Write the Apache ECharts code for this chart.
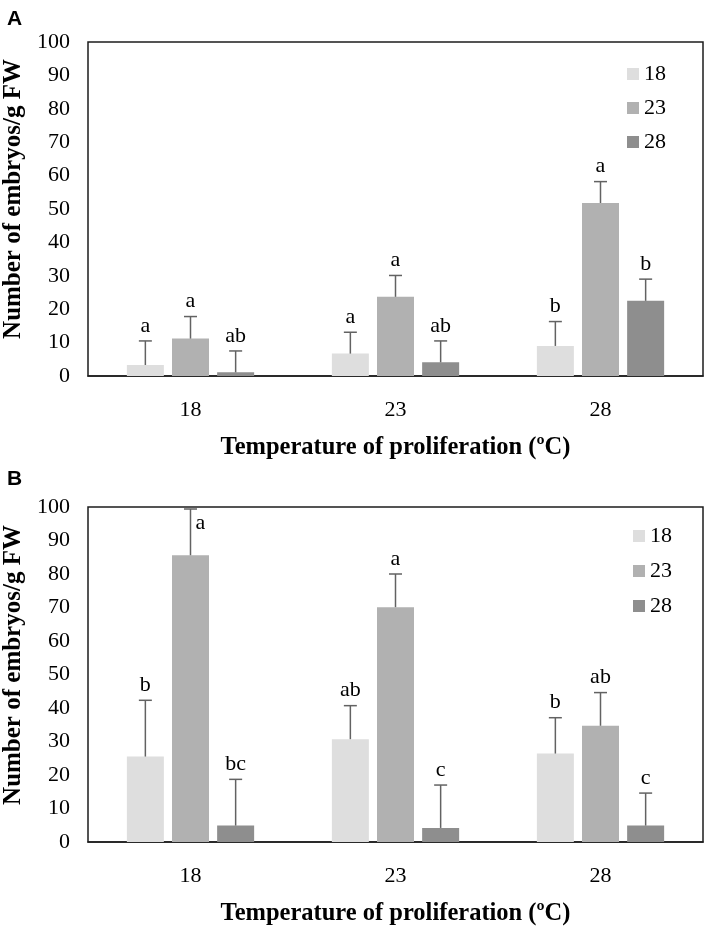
<!DOCTYPE html>
<html>
<head>
<meta charset="utf-8">
<script src="https://cdn.jsdelivr.net/npm/echarts@6/dist/echarts.min.js"></script>
<style>
html,body{margin:0;padding:0;background:#fff;}
#chart{width:707px;height:927px;}
</style>
</head>
<body>
<div id="chart"></div>
<script>
// ---- data ----
var categories = ['18', '23', '28'];
var seriesNames = ['18', '23', '28'];
var yTicks = [0, 10, 20, 30, 40, 50, 60, 70, 80, 90, 100];
var xTitle = 'Temperature of proliferation (\u00BAC)';
var yTitle = 'Number of embryos/g FW';

// Panel A
var a18 = [3.3, 6.7, 9.0];
var a23 = [11.2, 23.7, 51.8];
var a28 = [1.1, 4.1, 22.5];
var a18Err = [7.2, 6.4, 7.3];
var a23Err = [6.6, 6.4, 6.4];
var a28Err = [6.4, 6.4, 6.5];
var a18Let = ['a', 'a', 'b'];
var a23Let = ['a', 'a', 'a'];
var a28Let = ['ab', 'ab', 'b'];

// Panel B
var b18 = [25.5, 30.7, 26.4];
var b23 = [85.6, 70.1, 34.7];
var b28 = [4.9, 4.2, 4.9];
var b18Err = [16.8, 10.0, 10.7];
var b23Err = [13.8, 9.9, 9.9];
var b28Err = [13.8, 12.8, 9.7];
var b18Let = ['b', 'ab', 'b'];
var b23Let = ['a', 'a', 'ab'];
var b28Let = ['bc', 'c', 'c'];

// ---- styling ----
var colors = ['#dedede', '#b1b1b1', '#8e8e8e'];
var serif = 'Liberation Serif';
var BAR_W = 37;
var BAR_GAP = 0.22;

var panels = [
  {vals: [a18, a23, a28], errs: [a18Err, a23Err, a28Err], lets: [a18Let, a23Let, a28Let]},
  {vals: [b18, b23, b28], errs: [b18Err, b23Err, b28Err], lets: [b18Let, b23Let, b28Let]}
];

var grids = [
  {left: 88, top: 42, width: 615, height: 334, show: true, borderColor: '#1c1c1c', borderWidth: 1.5, backgroundColor: 'transparent'},
  {left: 88, top: 507, width: 615, height: 335, show: true, borderColor: '#1c1c1c', borderWidth: 1.5, backgroundColor: 'transparent'}
];

var xAxes = [], yAxes = [], series = [];
panels.forEach(function (p, g) {
  xAxes.push({
    type: 'category', gridIndex: g, data: categories,
    axisLine: {show: true, lineStyle: {color: '#1c1c1c', width: 1.5}},
    axisTick: {show: false},
    axisLabel: {fontFamily: serif, fontSize: 22, color: '#000', margin: 23},
    name: xTitle,
    nameLocation: 'middle', nameGap: 59,
    nameTextStyle: {fontFamily: serif, fontSize: 24.5, fontWeight: 'bold', color: '#000'}
  });
  yAxes.push({
    type: 'value', gridIndex: g, min: yTicks[0], max: yTicks[yTicks.length - 1], interval: 10,
    axisLine: {show: false}, axisTick: {show: false}, splitLine: {show: false},
    axisLabel: {fontFamily: serif, fontSize: 22, color: '#000', margin: 18}
  });
  p.vals.forEach(function (v, s) {
    series.push({
      type: 'bar', name: seriesNames[s], xAxisIndex: g, yAxisIndex: g,
      data: v, barWidth: BAR_W, barGap: (BAR_GAP * 100) + '%',
      itemStyle: {color: colors[s]}, emphasis: {disabled: true}, silent: true
    });
  });
  // error bars + significance letters
  var errData = [], letters = [];
  for (var s = 0; s < 3; s++) {
    for (var c = 0; c < categories.length; c++) {
      errData.push([c, s, p.vals[s][c], p.errs[s][c]]);
      letters.push(p.lets[s][c]);
    }
  }
  series.push({
    type: 'custom', xAxisIndex: g, yAxisIndex: g, z: 5, silent: true, clip: false,
    data: errData,
    renderItem: function (params, api) {
      var c = api.value(0), s = api.value(1), v = api.value(2), e = api.value(3);
      var base = api.coord([c, v]);
      var topPt = api.coord([c, v + e]);
      var x = base[0] + (s - 1) * BAR_W * (1 + BAR_GAP);
      var yb = base[1], yt = topPt[1];
      var lt = letters[params.dataIndex];
      var nearTop = (v + e) > 95;
      var txt = nearTop
        ? {type: 'text', style: {x: x + 5, y: yt + 14, text: lt, fill: '#000', font: '22px "' + serif + '"', textAlign: 'left', textVerticalAlign: 'middle'}}
        : {type: 'text', style: {x: x, y: yt - 15, text: lt, fill: '#000', font: '22px "' + serif + '"', textAlign: 'center', textVerticalAlign: 'middle'}};
      return {
        type: 'group',
        children: [
          {type: 'line', shape: {x1: x, y1: yb, x2: x, y2: yt}, style: {stroke: '#626262', lineWidth: 1.5}},
          {type: 'line', shape: {x1: x - 6.5, y1: yt, x2: x + 6.5, y2: yt}, style: {stroke: '#626262', lineWidth: 1.5}},
          txt
        ]
      };
    }
  });
});

var legendBase = {
  data: seriesNames, orient: 'vertical', itemWidth: 12, itemHeight: 12, icon: 'rect',
  padding: 0, selectedMode: false,
  textStyle: {fontFamily: serif, fontSize: 22, color: '#000', lineHeight: 22, padding: [0, 0, 0, 0]}
};

var titleFont = 'bold 25px "' + serif + '"';
var option = {
  animation: false,
  backgroundColor: '#fff',
  grid: grids,
  xAxis: xAxes,
  yAxis: yAxes,
  legend: [
    Object.assign({}, legendBase, {left: 627, top: 63, itemGap: 12}),
    Object.assign({}, legendBase, {left: 633, top: 525, itemGap: 13})
  ],
  graphic: [
    {type: 'text', left: 7, top: 9, style: {text: 'A', font: 'bold 21px "Liberation Sans"', fill: '#000'}},
    {type: 'text', left: 7, top: 469, style: {text: 'B', font: 'bold 21px "Liberation Sans"', fill: '#000'}},
    {type: 'text', x: 14, y: 199, rotation: Math.PI / 2, style: {text: yTitle, font: titleFont, fill: '#000', textAlign: 'center', textVerticalAlign: 'middle'}},
    {type: 'text', x: 14, y: 665, rotation: Math.PI / 2, style: {text: yTitle, font: titleFont, fill: '#000', textAlign: 'center', textVerticalAlign: 'middle'}}
  ],
  series: series
};

var chart = echarts.init(document.getElementById('chart'), null, {renderer: 'canvas'});
chart.setOption(option);
</script>
</body>
</html>
